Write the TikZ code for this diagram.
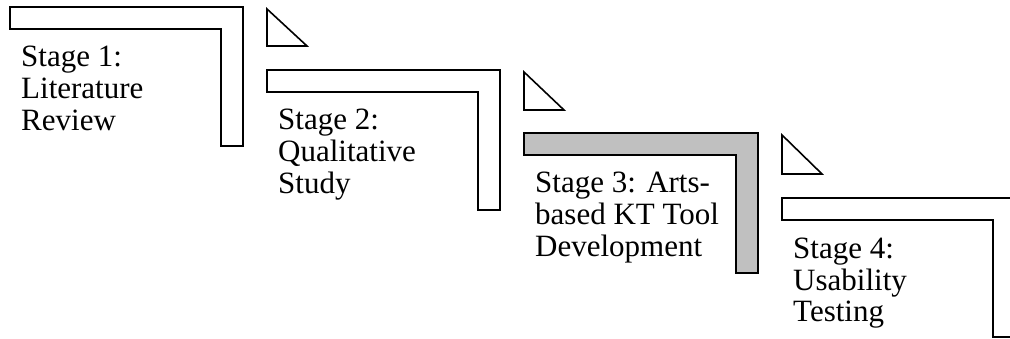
\documentclass[tikz,border=0pt]{standalone}
\usepackage{fontspec}
\setmainfont{Liberation Serif}
\usetikzlibrary{positioning}

\tikzset{
  stagebar/.style={draw=black, line width=1.6pt, fill=white},
  stagetri/.style={draw=black, line width=1.6pt, fill=white},
  stagetext/.style={anchor=base west, align=left, inner sep=0pt,
    font=\fontsize{31}{32}\selectfont}
}

\begin{document}
\begin{tikzpicture}[x=1pt, y=-1pt]
  \clip (0, 0) rectangle (1010, 339);
  \begin{scope}[line join=miter]
  \draw[stagebar] (10, 7) -- (243, 7) -- (243, 146) -- (221, 146) -- (221, 29) -- (10, 29) -- cycle;
  \draw[stagebar] (267, 70) -- (500, 70) -- (500, 210) -- (478, 210) -- (478, 92) -- (267, 92) -- cycle;
  \draw[stagebar, fill={rgb,255:red,192;green,192;blue,192}]
    (524, 133) -- (758, 133) -- (758, 273) -- (736, 273) -- (736, 155) -- (524, 155) -- cycle;
  \draw[stagebar] (782, 198) -- (1015, 198) -- (1015, 337) -- (993, 337) -- (993, 220) -- (782, 220) -- cycle;
  \end{scope}

  \draw[stagetri] (267, 9) -- (267, 46) -- (307, 46) -- cycle;
  \draw[stagetri] (524, 72) -- (524, 110) -- (564, 110) -- cycle;
  \draw[stagetri] (782, 135) -- (782, 174) -- (822, 174) -- cycle;

  \node[stagetext] (stage1) at (21, 131) {Stage 1:\\Literature\\Review};
  \node[stagetext] (stage2) at (278, 194) {Stage 2:\\Qualitative\\Study};
  \node[stagetext] (stage3) at (535, 257) {Stage 3: Arts-\\based KT Tool\\Development};
  \node[stagetext] (stage4) at (793, 322) {Stage 4:\\Usability\\Testing};
\end{tikzpicture}
\end{document}
